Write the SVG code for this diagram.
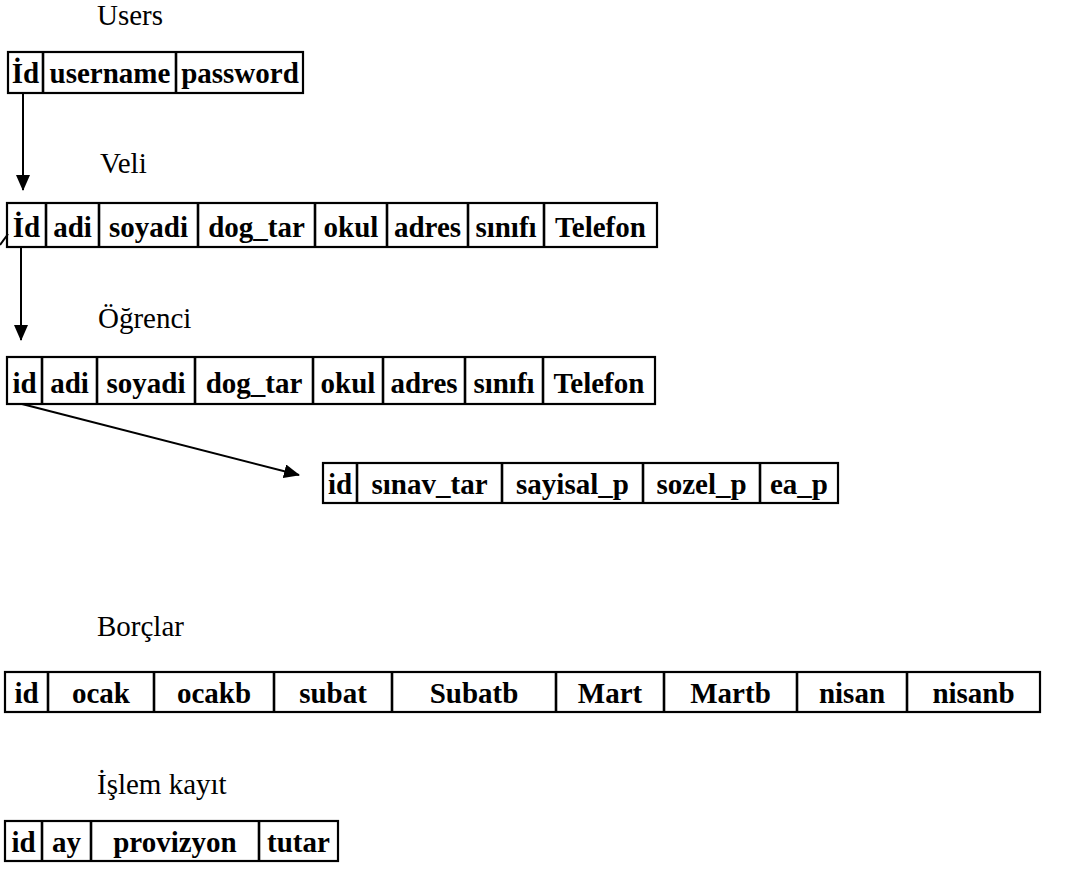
<svg xmlns="http://www.w3.org/2000/svg" width="1072" height="871" viewBox="0 0 1072 871">
<style>
.title{font-family:"Liberation Serif","Times New Roman",serif;font-size:29px;fill:#000}
.cell{font-family:"Liberation Serif","Times New Roman",serif;font-size:29px;font-weight:bold;fill:#000;text-anchor:middle}
.box{fill:#fff;stroke:#000;stroke-width:2.2}
.div{stroke:#000;stroke-width:2.6}
.conn{stroke:#000;stroke-width:2;fill:none}
</style>
<defs>
<marker id="ah" markerWidth="16" markerHeight="14" refX="15" refY="7" orient="auto" markerUnits="userSpaceOnUse">
<path d="M0,0 L16,7 L0,14 Z" fill="#000"/>
</marker>
</defs>
<rect width="1072" height="871" fill="#fff"/>

<g id="users">
<text class="title" x="97" y="25">Users</text>
<rect class="box" x="8" y="52" width="295" height="41"/>
<line class="div" x1="43" y1="52" x2="43" y2="93"/>
<line class="div" x1="176" y1="52" x2="176" y2="93"/>
<text class="cell" x="25.5" y="83">İd</text>
<text class="cell" x="110" y="83">username</text>
<text class="cell" x="240" y="83">password</text>
</g>

<g id="veli">
<text class="title" x="100" y="173">Veli</text>
<rect class="box" x="7" y="203" width="650" height="44"/>
<line class="div" x1="46" y1="203" x2="46" y2="247"/>
<line class="div" x1="99" y1="203" x2="99" y2="247"/>
<line class="div" x1="198" y1="203" x2="198" y2="247"/>
<line class="div" x1="315" y1="203" x2="315" y2="247"/>
<line class="div" x1="387" y1="203" x2="387" y2="247"/>
<line class="div" x1="468" y1="203" x2="468" y2="247"/>
<line class="div" x1="544" y1="203" x2="544" y2="247"/>
<text class="cell" x="26.5" y="237">İd</text>
<text class="cell" x="72.5" y="237">adi</text>
<text class="cell" x="148.5" y="237">soyadi</text>
<text class="cell" x="256.5" y="237">dog_tar</text>
<text class="cell" x="351" y="237">okul</text>
<text class="cell" x="427.5" y="237">adres</text>
<text class="cell" x="506" y="237">sınıfı</text>
<text class="cell" x="600.5" y="237">Telefon</text>
</g>

<g id="ogrenci">
<text class="title" x="98" y="328">Öğrenci</text>
<rect class="box" x="7" y="357" width="648" height="47"/>
<line class="div" x1="42" y1="357" x2="42" y2="404"/>
<line class="div" x1="97" y1="357" x2="97" y2="404"/>
<line class="div" x1="195" y1="357" x2="195" y2="404"/>
<line class="div" x1="313" y1="357" x2="313" y2="404"/>
<line class="div" x1="383" y1="357" x2="383" y2="404"/>
<line class="div" x1="465" y1="357" x2="465" y2="404"/>
<line class="div" x1="543" y1="357" x2="543" y2="404"/>
<text class="cell" x="24.5" y="393">id</text>
<text class="cell" x="69.5" y="393">adi</text>
<text class="cell" x="146" y="393">soyadi</text>
<text class="cell" x="254" y="393">dog_tar</text>
<text class="cell" x="348" y="393">okul</text>
<text class="cell" x="424" y="393">adres</text>
<text class="cell" x="504" y="393">sınıfı</text>
<text class="cell" x="599" y="393">Telefon</text>
</g>

<g id="sinav">
<rect class="box" x="323" y="463" width="515" height="40"/>
<line class="div" x1="357" y1="463" x2="357" y2="503"/>
<line class="div" x1="502" y1="463" x2="502" y2="503"/>
<line class="div" x1="643" y1="463" x2="643" y2="503"/>
<line class="div" x1="760" y1="463" x2="760" y2="503"/>
<text class="cell" x="340" y="494">id</text>
<text class="cell" x="429.5" y="494">sınav_tar</text>
<text class="cell" x="572.5" y="494">sayisal_p</text>
<text class="cell" x="701.5" y="494">sozel_p</text>
<text class="cell" x="799" y="494">ea_p</text>
</g>

<g id="borclar">
<text class="title" x="97" y="636">Borçlar</text>
<rect class="box" x="5" y="672" width="1035" height="40"/>
<line class="div" x1="48" y1="672" x2="48" y2="712"/>
<line class="div" x1="154" y1="672" x2="154" y2="712"/>
<line class="div" x1="274" y1="672" x2="274" y2="712"/>
<line class="div" x1="392" y1="672" x2="392" y2="712"/>
<line class="div" x1="556" y1="672" x2="556" y2="712"/>
<line class="div" x1="664" y1="672" x2="664" y2="712"/>
<line class="div" x1="797" y1="672" x2="797" y2="712"/>
<line class="div" x1="907" y1="672" x2="907" y2="712"/>
<text class="cell" x="26.5" y="703">id</text>
<text class="cell" x="101" y="703">ocak</text>
<text class="cell" x="214" y="703">ocakb</text>
<text class="cell" x="333" y="703">subat</text>
<text class="cell" x="474" y="703">Subatb</text>
<text class="cell" x="610" y="703">Mart</text>
<text class="cell" x="730.5" y="703">Martb</text>
<text class="cell" x="852" y="703">nisan</text>
<text class="cell" x="973.5" y="703">nisanb</text>
</g>

<g id="islem">
<text class="title" x="97" y="794">İşlem kayıt</text>
<rect class="box" x="5" y="821" width="333" height="40"/>
<line class="div" x1="42" y1="821" x2="42" y2="861"/>
<line class="div" x1="91" y1="821" x2="91" y2="861"/>
<line class="div" x1="259" y1="821" x2="259" y2="861"/>
<text class="cell" x="23.5" y="852">id</text>
<text class="cell" x="66.5" y="852">ay</text>
<text class="cell" x="175" y="852">provizyon</text>
<text class="cell" x="298.5" y="852">tutar</text>
</g>

<g id="connectors">
<line class="conn" x1="23" y1="93" x2="23" y2="190" marker-end="url(#ah)"/>
<line class="conn" x1="21" y1="247" x2="21" y2="340" marker-end="url(#ah)"/>
<line class="conn" x1="22" y1="404" x2="299" y2="475" marker-end="url(#ah)"/>
<line class="conn" x1="0" y1="245" x2="8" y2="234"/>
</g>
</svg>
